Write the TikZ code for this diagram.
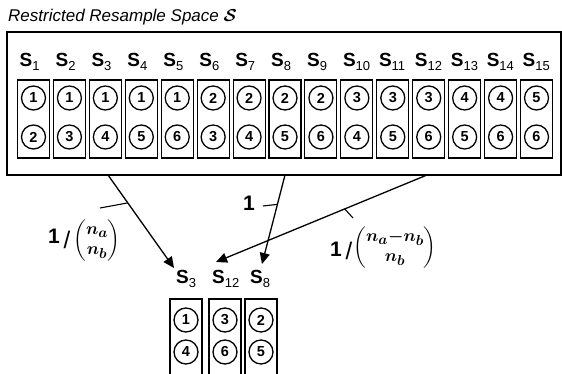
\documentclass[tikz,border=0pt]{standalone}
\usepackage{fontspec}
\setmainfont{Liberation Sans}
\usepackage{amsmath}
\usetikzlibrary{arrows.meta,calc}
\newcommand{\slab}[1]{\textbf{S}\raisebox{-4pt}{\fontsize{13}{13}\selectfont #1}}
\begin{document}
\begin{tikzpicture}[x=1pt,y=-1pt,
  outer/.style={draw,line width=1.3pt},
  cell/.style={draw,line width=1.1pt,minimum width=32pt,minimum height=78pt,inner sep=0pt},
  lowcell/.style={draw,line width=1.1pt,minimum width=32pt,minimum height=76pt,inner sep=0pt},
  ball/.style={circle,draw,line width=1.3pt,minimum size=24pt,inner sep=0pt,font=\fontsize{14.5}{14.5}\selectfont\bfseries},
  slabel/.style={anchor=base west,inner sep=0pt,font=\fontsize{19}{19}\selectfont},
  arr/.style={line width=1.3pt,-{Triangle[length=11pt,width=10pt]}},
  tick/.style={line width=1.1pt},
  one/.style={font=\fontsize{21}{21}\selectfont\bfseries,inner sep=0pt},
  frac/.style={inner sep=0pt,font=\fontsize{19}{19}\selectfont\boldmath}
]
\useasboundingbox (0,0) rectangle (562,374);
% title
\node[anchor=base west,inner sep=0pt,font=\fontsize{17}{17}\selectfont\itshape] (title) at (8,22)
  {Restricted Resample Space $\boldsymbol{\mathcal{S}}$};
% outer box
\draw[outer] (7,32) -- (561,32) -- (561,175) -- (7,175) -- cycle;
% cells
\foreach \i/\a/\b in {1/1/2,2/1/3,3/1/4,4/1/5,5/1/6,6/2/3,7/2/4,8/2/5,9/2/6,10/3/4,11/3/5,12/3/6,13/4/5,14/4/6,15/5/6}{
  \pgfmathsetmacro{\cx}{33.5+35.93*(\i-1)}
  \node[cell] (b\i) at (\cx,119) {};
  \node[ball] (b\i-t) at (\cx,98) {\a};
  \node[ball] (b\i-b) at (\cx,137) {\b};
  \node[slabel] (s\i) at (\cx-14,67) {\slab{\i}};
}
% lower selection
\foreach \n/\cx/\a/\b in {3/186/1/4,12/225/3/6,8/261/2/5}{
  \node[lowcell] (c\n) at (\cx,337) {};
  \node[ball] (c\n-t) at (\cx,320) {\a};
  \node[ball] (c\n-b) at (\cx,352) {\b};
}
\node[slabel] (t3) at (176,283) {\slab{3}};
\node[slabel] (t12) at (212,283) {\slab{12}};
\node[slabel] (t8) at (250,283) {\slab{8}};
% arrow endpoints
\coordinate (from1) at (108,175);
\coordinate (from2) at (285,175);
\coordinate (from3) at (427,175);
\coordinate (to3) at (174,268);
\coordinate (to8) at (262,264);
\coordinate (to12) at (216,262);
\draw[arr] (from1) -- (to3);
\draw[arr] (from2) -- (to8);
\draw[arr] (from3) -- (to12);
% labels
\node[one] (one1) at (54,236) {1};
\node[one] (one2) at (249,203) {1};
\node[one] (one3) at (336,249) {1};
\node[inner sep=0pt,font=\fontsize{24}{24}\selectfont] (sl1) at (67,240) {/};
\node[inner sep=0pt,font=\fontsize{24}{24}\selectfont] (sl3) at (349,251) {/};
\node[frac] (f1) at (97,241) {$\left(\begin{matrix} n_a\\[1pt] n_b\end{matrix}\right)$};
\node[frac] (f3) at (395,248) {$\left(\begin{matrix} n_a{-}n_b\\[1pt] n_b\end{matrix}\right)$};
% ticks
\coordinate (k1a) at (100,208);
\coordinate (k2a) at (263,206);
\coordinate (k3a) at (353,218);
\draw[tick] (k1a) -- ($(from1)!0.3!(to3)$);
\draw[tick] (k2a) -- ($(from2)!0.33!(to8)$);
\draw[tick] (k3a) -- ($(from3)!0.39!(to12)$);
\end{tikzpicture}
\end{document}
